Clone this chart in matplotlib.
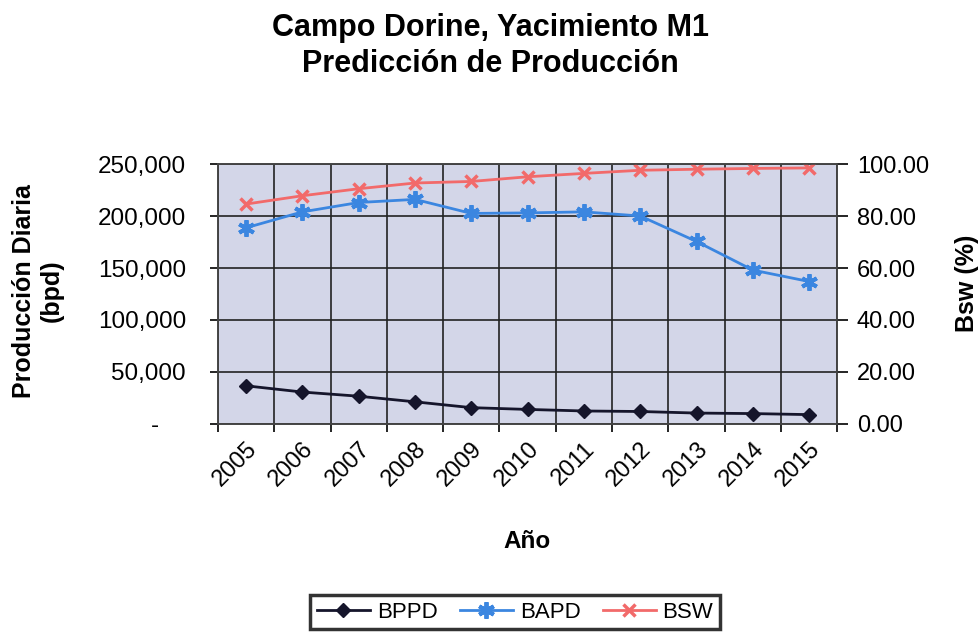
import numpy as np
import matplotlib

matplotlib.use("Agg")
import matplotlib.pyplot as plt  # noqa: E402
from matplotlib.ticker import FuncFormatter, FormatStrFormatter  # noqa: E402

plt.rcParams["font.family"] = ["Liberation Sans", "DejaVu Sans"]

# data
years = ["2005", "2006", "2007", "2008", "2009", "2010",
         "2011", "2012", "2013", "2014", "2015"]
bppd = [36700, 30700, 26700, 21300, 15700, 14000, 12500, 12000, 10500, 10000, 9000]
bapd = [188700, 204000, 213000, 216000, 202500, 203000, 204000, 200000, 175500, 148000, 137000]
bsw = [84.6, 87.8, 90.5, 92.7, 93.3, 95.1, 96.4, 97.6, 98.0, 98.3, 98.5]

left_ticks = [0, 50000, 100000, 150000, 200000, 250000]
right_ticks = [0, 20, 40, 60, 80, 100]

C_BPPD = "#15152b"
C_BAPD = "#3b86e0"
C_BSW = "#f26a6a"
PLOT_BG = "#d3d6e8"

fig = plt.figure(figsize=(9.8, 6.39), dpi=100)
ax = fig.add_axes([0.2224, 0.3365, 0.632, 0.4068])
ax.set_facecolor(PLOT_BG)

x = np.arange(len(years))
l1, = ax.plot(x, bppd, color=C_BPPD, lw=2, marker="D", ms=7, label="BPPD")
l2, = ax.plot(x, bapd, color=C_BAPD, lw=2, marker=(6, 2, 0), ms=12,
              mew=2.8, label="BAPD")

ax.set_xlim(-0.5, len(years) - 0.5)
ax.set_ylim(0, 250000)
ax.set_yticks(left_ticks)
ax.yaxis.set_major_formatter(
    FuncFormatter(lambda v, p: "-    " if v == 0 else f"{v:,.0f}"))

# category boundaries carry the grid + tick marks, centers carry the labels
ax.set_xticks(np.arange(-0.5, len(years), 1.0))
ax.set_xticklabels([])
ax.set_xticks(x, minor=True)
ax.set_xticklabels(years, minor=True, rotation=45, ha="right",
                   rotation_mode="anchor", fontsize=17)
ax.tick_params(axis="x", which="minor", length=0, pad=10)
ax.tick_params(axis="x", which="major", length=6, width=1.2, direction="out")
ax.tick_params(axis="y", length=6, width=1.2, labelsize=17.5, pad=17)
ax.grid(True, which="major", color="#222222", lw=1.2)
ax.set_axisbelow(True)
for s in ax.spines.values():
    s.set_color("#444444")
    s.set_linewidth(1.2)

ax2 = ax.twinx()
l3, = ax2.plot(x, bsw, color=C_BSW, lw=2, marker="x", ms=9, mew=2.5,
               label="BSW")
ax2.set_ylim(0, 100)
ax2.set_yticks(right_ticks)
ax2.yaxis.set_major_formatter(FormatStrFormatter("%.2f"))
ax2.tick_params(axis="y", length=8, width=1.2, labelsize=17, pad=6)
for s in ax2.spines.values():
    s.set_color("#444444")
    s.set_linewidth(1.2)

fig.text(0.5, 1 - 28 / 639, "Campo Dorine, Yacimiento M1", ha="center",
         va="center", fontsize=22, fontweight="bold")
fig.text(0.5, 1 - 64 / 639, "Predicción de Producción", ha="center",
         va="center", fontsize=22, fontweight="bold")
fig.text(38 / 980, 1 - 291 / 639, "Producción Diaria\n(bpd)", ha="center",
         va="center", rotation=90, fontsize=18, fontweight="bold",
         multialignment="center", linespacing=1.2)
fig.text(967 / 980, 1 - 283 / 639, "Bsw (%)", ha="center", va="center",
         rotation=90, fontsize=18, fontweight="bold")
fig.text(527 / 980, 1 - 541 / 639, "Año", ha="center", va="center",
         fontsize=17.5, fontweight="bold")

leg = fig.legend(handles=[l1, l2, l3], loc="center", ncol=3,
                 bbox_to_anchor=(515 / 980, 1 - 612 / 639), fontsize=16,
                 fancybox=False, frameon=True, handlelength=2.4,
                 columnspacing=1.0, handletextpad=0.3, borderpad=0.3)
leg.get_frame().set_edgecolor("black")
leg.get_frame().set_linewidth(2.5)

fig.savefig("out.png", dpi=100)
plt.close(fig)
